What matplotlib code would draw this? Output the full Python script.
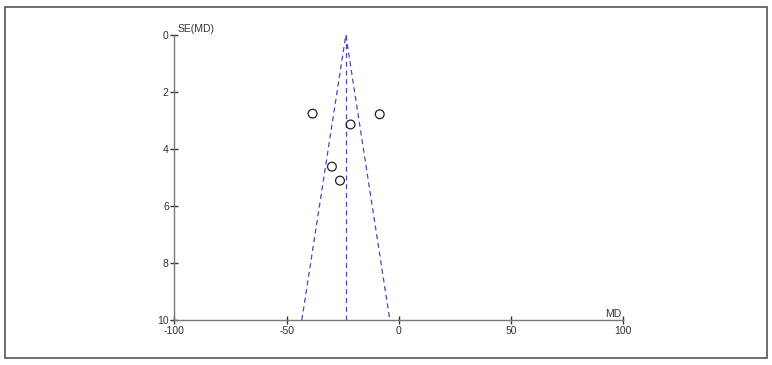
import matplotlib.pyplot as plt
from matplotlib.patches import Rectangle

plt.rcParams['font.family'] = ['Liberation Sans', 'DejaVu Sans']
plt.rcParams['axes.unicode_minus'] = False

# study estimates
md = [-38.4, -8.5, -21.5, -29.8, -26.2]
se = [2.76, 2.78, 3.14, 4.62, 5.11]

# pooled estimate and funnel limits
pooled = -23.6
se_max = 10
x_ticks = [-100, -50, 0, 50, 100]
y_ticks = [0, 2, 4, 6, 8, 10]

fig = plt.figure(figsize=(7.72, 3.65), dpi=100)
fig.patches.append(Rectangle((5 / 772, 1 - 358 / 365), 762 / 772, 351 / 365,
                             transform=fig.transFigure, fill=False,
                             edgecolor='#555555', linewidth=1.2))

ax = fig.add_axes([0.2258, 0.1233, 0.5816, 0.7808])

funnel_color = '#4848b8'
ax.plot([pooled - 1.96 * se_max, pooled, pooled + 1.96 * se_max], [se_max, 0, se_max],
        linestyle=(0, (4, 3)), color=funnel_color, linewidth=0.9)
ax.plot([pooled, pooled], [0, se_max], linestyle=(0, (4, 3)), color=funnel_color, linewidth=0.9)

ax.scatter(md, se, s=40, facecolors='none', edgecolors='#222222', linewidths=0.9, zorder=3)

ax.set_xlim(-100, 100)
ax.set_ylim(10, 0)
ax.set_xticks(x_ticks)
ax.set_yticks(y_ticks)

for side in ['top', 'right']:
    ax.spines[side].set_visible(False)
for side in ['left', 'bottom']:
    ax.spines[side].set_color('#777777')
    ax.spines[side].set_linewidth(1.0)

ax.tick_params(axis='both', direction='inout', length=6, width=1.0, color='#333333',
               labelsize=7.5, labelcolor='#333333', pad=1)

ax.text(-98.5, -0.05, 'SE(MD)', fontsize=7.5, color='#333333', ha='left', va='bottom')
ax.text(99, 9.95, 'MD', fontsize=7.5, color='#333333', ha='right', va='bottom')

fig.savefig('out.png', dpi=100)
